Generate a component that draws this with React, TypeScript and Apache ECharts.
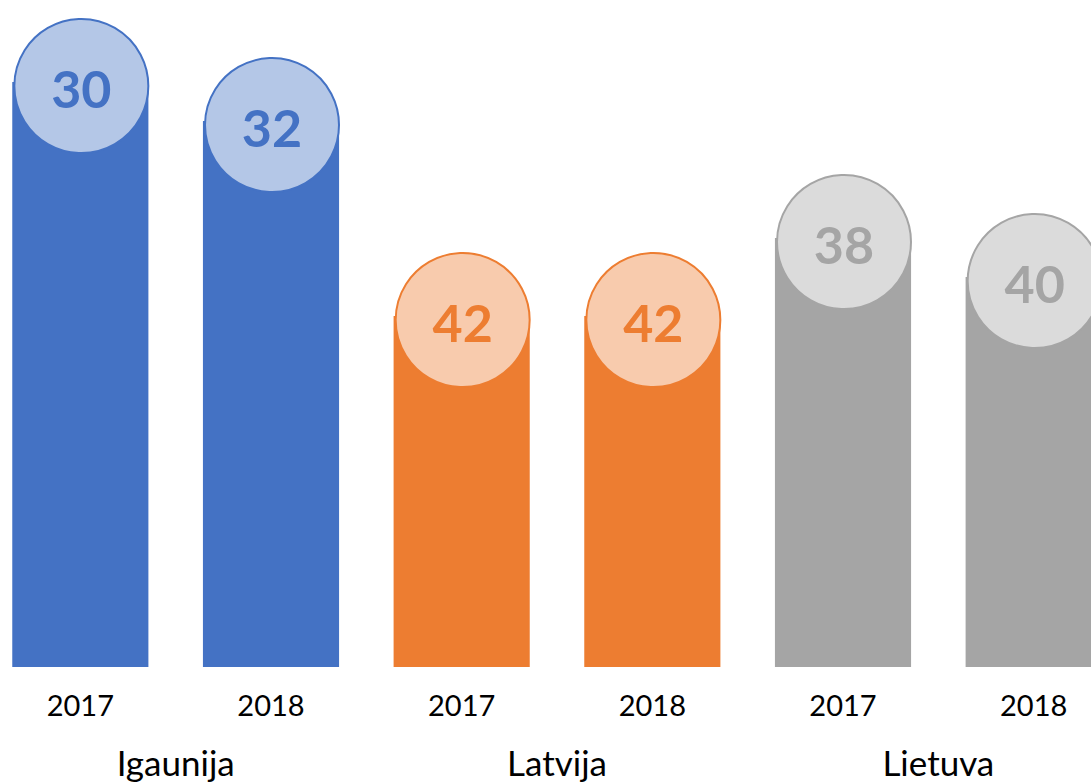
import React, { useEffect, useRef } from "react";
import * as echarts from "echarts";

const countries = ["Igaunija", "Latvija", "Lietuva"];
const years = ["2017", "2018", "2017", "2018", "2017", "2018"];
const values = [30, 32, 42, 42, 38, 40];
const barColors = ["#4472C4", "#ED7D31", "#A5A5A5"];
const circleFills = ["#B4C7E7", "#F8CBAD", "#DBDBDB"];
const axisBase = 60;
const axisTop = 26;

export default function App() {
  const ref = useRef<HTMLDivElement>(null);
  useEffect(() => {
    const chart = echarts.init(ref.current as HTMLDivElement, null, { renderer: "svg" });
    const groupOf = (i: number) => Math.floor(i / 2);
    const points = values.map((v, i) => [i, v]);
    chart.setOption({
      animation: false,
      grid: { left: 0, right: 0, top: 4, bottom: 117, containLabel: false },
      xAxis: [
        {
          type: "category",
          data: years,
          position: "bottom",
          axisLine: { show: false },
          axisTick: { show: false },
          splitLine: { show: false },
          axisLabel: { fontFamily: "Lato", fontSize: 29, color: "#000", margin: 23 },
        },
        {
          type: "category",
          data: countries,
          position: "bottom",
          offset: 60,
          axisLine: { show: false },
          axisTick: { show: false },
          splitLine: { show: false },
          axisLabel: { fontFamily: "Lato", fontSize: 35, color: "#000", margin: 17 },
        },
      ],
      yAxis: { type: "value", inverse: true, min: axisTop, max: axisBase, show: false, splitLine: { show: false } },
      series: [
        {
          type: "custom",
          xAxisIndex: 0,
          data: points,
          encode: { x: 0, y: 1 },
          renderItem: (params: any, api: any) => {
            const idx = api.value(0);
            const top = api.coord([idx, api.value(1)]);
            const bottom = api.coord([idx, axisBase]);
            const w = api.size([1, 0])[0] * 0.714;
            return {
              type: "rect",
              shape: { x: top[0] - w / 2, y: top[1], width: w, height: bottom[1] - top[1] },
              style: { fill: barColors[groupOf(idx)] },
            };
          },
          z: 2,
        },
        {
          type: "scatter",
          xAxisIndex: 0,
          clip: false,
          symbol: "circle",
          symbolSize: 134,
          symbolOffset: [1, 4],
          z: 3,
          data: points.map((p, i) => ({
            value: p,
            itemStyle: {
              color: circleFills[groupOf(i)],
              borderColor: barColors[groupOf(i)],
              borderWidth: 2,
              opacity: 1,
            },
            label: { color: barColors[groupOf(i)] },
          })),
          label: {
            show: true,
            position: "inside",
            offset: [0, 2],
            fontFamily: "Lato",
            fontWeight: "bold",
            fontSize: 52,
            formatter: (p: any) => String(p.value[1]),
          },
        },
      ],
    });
    return () => chart.dispose();
  }, []);
  return (
    <div
      style={{ position: "absolute", left: 0, top: 0, width: 1091, height: 784, overflow: "hidden" }}
    >
      <div
        ref={ref}
        style={{ position: "absolute", left: -15, top: 0, width: 1144, height: 784 }}
      />
    </div>
  );
}
